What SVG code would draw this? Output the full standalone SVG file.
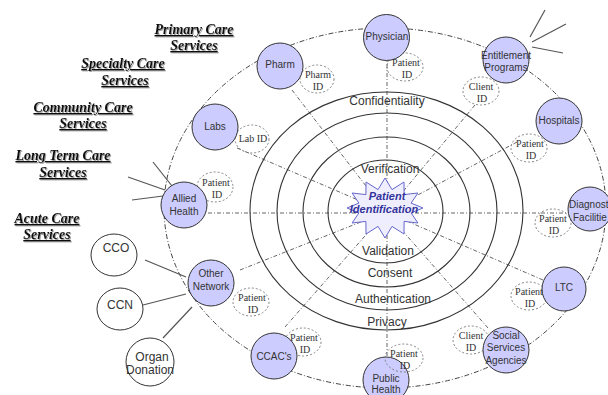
<svg xmlns="http://www.w3.org/2000/svg" width="608" height="395" viewBox="0 0 608 395">
<style>
.orbit{fill:none;stroke:#444;stroke-width:1;stroke-dasharray:5 2 1 2}
.ring{fill:none;stroke:#333;stroke-width:1.1}
.ray{fill:none;stroke:#555;stroke-width:0.9;stroke-dasharray:4 2 1 2}
.link{fill:none;stroke:#555;stroke-width:1.2}
.rl{font-family:"Liberation Sans",Arial,sans-serif;font-size:12px;fill:#333;text-anchor:middle}
.nd{fill:#ccccff;stroke:#333;stroke-width:1}
.pl{fill:#fff;stroke:#333;stroke-width:1}
.nt{font-family:"Liberation Sans",Arial,sans-serif;font-size:10px;fill:#333;text-anchor:middle}
.pt{font-family:"Liberation Sans",Arial,sans-serif;font-size:12px;fill:#333;text-anchor:middle}
.ide{fill:none;stroke:#777;stroke-width:0.9;stroke-dasharray:2 2}
.idt{font-family:"Liberation Serif","Times New Roman",serif;font-size:10px;fill:#333;text-anchor:middle}
.svc{font-family:"Liberation Serif","Times New Roman",serif;font-size:14px;font-weight:bold;font-style:italic;text-decoration:underline;fill:#111;text-anchor:middle}
.star{fill:#eeeeff;stroke:#6666cc;stroke-width:1}
.st{font-family:"Liberation Sans",Arial,sans-serif;font-size:11px;font-weight:bold;font-style:italic;fill:#333399;text-anchor:middle}
</style>
<defs>
<filter id="sh" x="-10%" y="-20%" width="130%" height="150%">
<feDropShadow dx="1" dy="1" stdDeviation="0.4" flood-color="#888" flood-opacity="0.8"/>
</filter>
</defs>

<g id="labels-services" filter="url(#sh)">
<text class="svc" x="194" y="34">Primary Care</text>
<text class="svc" x="194" y="50">Services</text>
<text class="svc" x="123" y="68">Specialty Care </text>
<text class="svc" x="125" y="85">Services</text>
<text class="svc" x="83" y="112">Community Care</text>
<text class="svc" x="83" y="128">Services</text>
<text class="svc" x="63" y="160">Long Term Care </text>
<text class="svc" x="63" y="177">Services</text>
<text class="svc" x="47" y="223">Acute Care</text>
<text class="svc" x="47" y="239">Services</text>
</g>

<g id="connectors">
<ellipse class="orbit" cx="385" cy="208" rx="221" ry="180"/>
<line class="ray" x1="208" y1="213" x2="568" y2="213"/>
<line class="ray" x1="387" y1="55" x2="387" y2="357"/>
<line class="ray" x1="292" y1="90" x2="386" y2="212"/>
<line class="ray" x1="237" y1="148" x2="386" y2="212"/>
<line class="ray" x1="475" y1="105" x2="386" y2="212"/>
<line class="ray" x1="517" y1="142" x2="386" y2="212"/>
<line class="ray" x1="543" y1="280" x2="386" y2="212"/>
<line class="ray" x1="488" y1="328" x2="386" y2="212"/>
<line class="ray" x1="285" y1="327" x2="386" y2="212"/>
<line class="ray" x1="240" y1="270" x2="386" y2="212"/>
<line class="link" x1="145" y1="260" x2="186" y2="277"/>
<line class="link" x1="143" y1="305" x2="186" y2="294"/>
<line class="link" x1="163" y1="338" x2="192" y2="307"/>
<line class="link" x1="153" y1="162" x2="172" y2="186"/>
<line class="link" x1="128" y1="177" x2="165" y2="190"/>
<line class="link" x1="132" y1="200" x2="163" y2="196"/>
<line class="link" x1="530" y1="37" x2="545" y2="10"/>
<line class="link" x1="532" y1="42" x2="566" y2="24"/>
<line class="link" x1="532" y1="47" x2="563" y2="53"/>
</g>

<g id="rings">
<ellipse class="ring" cx="386.5" cy="211" rx="136.5" ry="119"/>
<ellipse class="ring" cx="387" cy="211.5" rx="110" ry="98.5"/>
<ellipse class="ring" cx="386.5" cy="212" rx="83.5" ry="75"/>
<ellipse class="ring" cx="385.5" cy="211.5" rx="57.5" ry="51.5"/>
<text class="rl" x="387" y="105">Confidentiality</text>
<text class="rl" x="390" y="173">Verification</text>
<text class="rl" x="388" y="255">Validation</text>
<text class="rl" x="390" y="277">Consent</text>
<text class="rl" x="393" y="303">Authentication</text>
<text class="rl" x="387" y="326">Privacy</text>
</g>

<g id="patient-identification">
<polygon class="star" points="423,208 411.1,212.9 417.9,223 404.1,221.4 404,234 392,226.4 385,238 378,226.4 366,234 365.9,221.4 352.1,223 358.9,212.9 347,208 358.9,203.1 352.1,193 365.9,194.6 366,182 378,189.6 385,178 392,189.6 404,182 404.1,194.6 417.9,193 411.1,203.1"/>
<text class="st" x="387" y="200">Patient</text>
<text class="st" x="384" y="213">Identification</text>
</g>

<g id="id-labels">
<ellipse class="ide" cx="405" cy="67" rx="18" ry="14"/>
<ellipse class="ide" cx="317" cy="79" rx="17" ry="14"/>
<ellipse class="ide" cx="481" cy="91" rx="18" ry="14"/>
<ellipse class="ide" cx="529" cy="148" rx="18" ry="14"/>
<ellipse class="ide" cx="553" cy="223" rx="18" ry="14"/>
<ellipse class="ide" cx="529" cy="296" rx="18" ry="14"/>
<ellipse class="ide" cx="471" cy="340" rx="18" ry="14"/>
<ellipse class="ide" cx="303" cy="342" rx="18" ry="14"/>
<ellipse class="ide" cx="251" cy="302" rx="18" ry="14"/>
<ellipse class="ide" cx="252" cy="139" rx="17" ry="14"/>
<ellipse class="ide" cx="215" cy="187" rx="18" ry="15"/>
</g>

<g id="physician"><circle class="nd" cx="386.5" cy="37.5" r="23"/><text class="nt" x="387" y="40">Physician</text></g>
<g id="pharm"><circle class="nd" cx="280" cy="66" r="23"/><text class="nt" x="280" y="68">Pharm</text></g>
<g id="entitlement"><circle class="nd" cx="506" cy="60" r="23"/><text class="nt" x="506" y="59">Entitlement</text><text class="nt" x="506" y="71">Programs</text></g>
<g id="hospitals"><circle class="nd" cx="559" cy="121" r="23"/><text class="nt" x="559" y="124">Hospitals</text></g>
<g id="diagnostic"><circle class="nd" cx="590" cy="209" r="22"/><text class="nt" x="569" y="208" style="text-anchor:start">Diagnost</text><text class="nt" x="573" y="221" style="text-anchor:start">Facilitie</text></g>
<g id="ltc"><circle class="nd" cx="564" cy="289" r="22"/><text class="nt" x="564" y="291">LTC</text></g>
<g id="social"><circle class="nd" cx="506" cy="350" r="23"/><text class="nt" x="506" y="339">Social</text><text class="nt" x="506" y="351">Services</text><text class="nt" x="506" y="364">Agencies</text></g>
<g id="public-health"><circle class="nd" cx="386" cy="380" r="23"/><ellipse class="ide" cx="404" cy="358" rx="19" ry="14"/><text class="nt" x="386" y="382">Public</text><text class="nt" x="386" y="393">Health</text></g>
<g id="ccac"><circle class="nd" cx="274" cy="356" r="23"/><text class="nt" x="274" y="360">CCAC's</text></g>
<g id="other-network"><circle class="nd" cx="211" cy="283" r="23"/><text class="nt" x="211" y="277">Other</text><text class="nt" x="211" y="290">Network</text></g>
<g id="allied-health"><circle class="nd" cx="184" cy="205" r="23"/><text class="nt" x="184" y="202">Allied</text><text class="nt" x="184" y="215">Health</text></g>
<g id="labs"><circle class="nd" cx="215" cy="127" r="23"/><text class="nt" x="215" y="130">Labs</text></g>
<g id="cco"><ellipse class="pl" cx="114" cy="255" rx="23" ry="21"/><text class="pt" x="116" y="252">CCO</text></g>
<g id="ccn"><ellipse class="pl" cx="120" cy="309" rx="23" ry="21"/><text class="pt" x="120" y="309">CCN</text></g>
<g id="organ-donation"><circle class="pl" cx="150" cy="362" r="24"/><text class="pt" x="152" y="361">Organ</text><text class="pt" x="150" y="374">Donation</text></g>

<g id="id-texts">
<text class="idt" x="406" y="66">Patient</text><text class="idt" x="407" y="78">ID</text>
<text class="idt" x="318" y="78">Pharm</text><text class="idt" x="318" y="90">ID</text>
<text class="idt" x="481" y="90">Client</text><text class="idt" x="482" y="102">ID</text>
<text class="idt" x="530" y="147">Patient</text><text class="idt" x="531" y="159">ID</text>
<text class="idt" x="553" y="222">Patient</text><text class="idt" x="554" y="234">ID</text>
<text class="idt" x="529" y="295">Patient</text><text class="idt" x="530" y="307">ID</text>
<text class="idt" x="471" y="339">Client</text><text class="idt" x="471" y="351">ID</text>
<text class="idt" x="404" y="357">Patient</text><text class="idt" x="405" y="369">ID</text>
<text class="idt" x="304" y="341">Patient</text><text class="idt" x="305" y="353">ID</text>
<text class="idt" x="252" y="301">Patient</text><text class="idt" x="253" y="313">ID</text>
<text class="idt" x="253" y="142">Lab ID</text>
<text class="idt" x="216" y="186">Patient</text><text class="idt" x="217" y="198">ID</text>
</g>
</svg>
